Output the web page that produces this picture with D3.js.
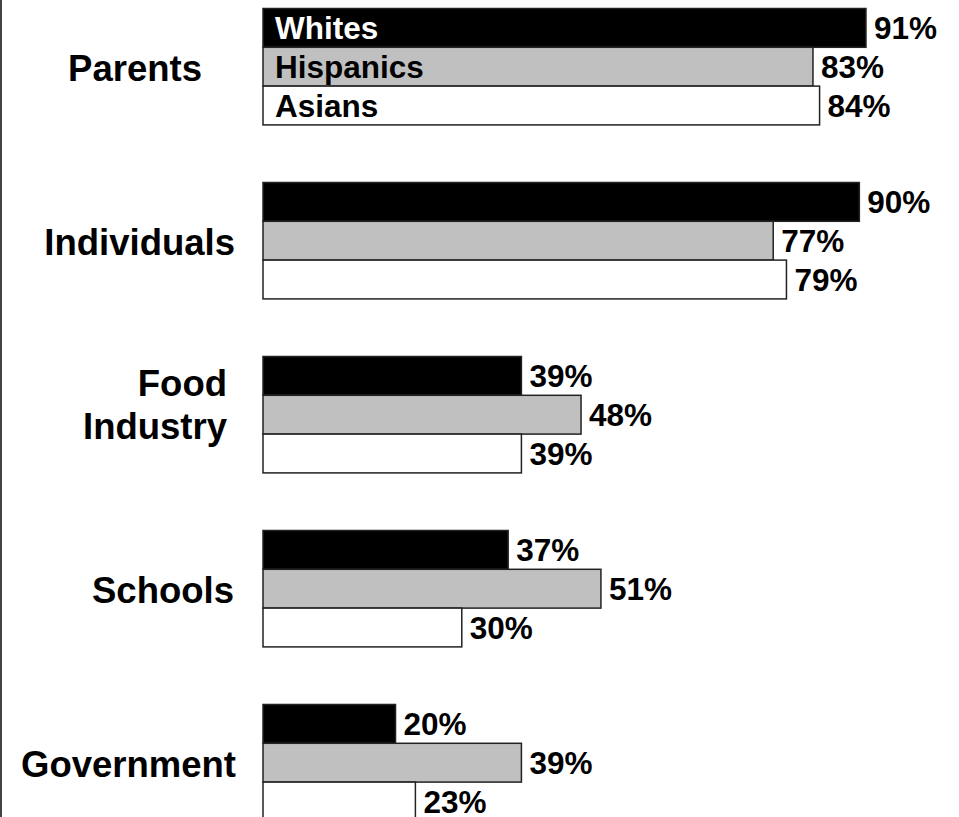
<!DOCTYPE html>
<html>
<head>
<meta charset="utf-8">
<script src="https://cdn.jsdelivr.net/npm/d3@7"></script>
<style>
  body { margin: 0; background: #fff; }
  svg { display: block; font-family: "Liberation Sans", Arial, sans-serif; font-weight: bold; }
</style>
</head>
<body>
<script>
// data
var categories = ["Parents", "Individuals", "Food Industry", "Schools", "Government"];
var series = ["Whites", "Hispanics", "Asians"];
var whites    = [91, 90, 39, 37, 20];
var hispanics = [83, 77, 48, 51, 39];
var asians    = [84, 79, 39, 30, 23];

var seriesValues = [whites, hispanics, asians];
var fills = ["#000000", "#c0c0c0", "#ffffff"];
var labelColors = ["#ffffff", "#000000", "#000000"];
// right edge of each category label
var labelRight = [202, 235, 227, 234, 236];

var width = 959, height = 817;

var svg = d3.select("body").append("svg")
    .attr("width", width)
    .attr("height", height);

// frame line on the left
svg.append("line")
    .attr("x1", 1).attr("x2", 1)
    .attr("y1", 0).attr("y2", height)
    .attr("stroke", "#444")
    .attr("stroke-width", 2);

// scales
var x = d3.scaleLinear().domain([0, 100]).range([263, 925.6]);
var y0 = d3.scaleBand().domain(categories).range([8.5, 820.9]).paddingInner(0.331).paddingOuter(0);
var y1 = d3.scaleBand().domain(series).range([0, y0.bandwidth()]);

var rows = [];
categories.forEach(function (c, i) {
    series.forEach(function (s, j) {
        rows.push({cat: c, ser: s, si: j, value: seriesValues[j][i], ci: i});
    });
});

var g = svg.append("g");

// bars
g.selectAll("rect.bar")
    .data(rows)
    .enter().append("rect")
    .attr("class", "bar")
    .attr("x", x(0))
    .attr("y", function (d) { return y0(d.cat) + y1(d.ser); })
    .attr("width", function (d) { return x(d.value) - x(0); })
    .attr("height", y1.bandwidth())
    .attr("fill", function (d) { return fills[d.si]; })
    .attr("stroke", "#222")
    .attr("stroke-width", 1.5);

// value labels
g.selectAll("text.val")
    .data(rows)
    .enter().append("text")
    .attr("class", "val")
    .attr("x", function (d) { return x(d.value) + 8; })
    .attr("y", function (d) { return y0(d.cat) + y1(d.ser) + y1.bandwidth() / 2; })
    .attr("dy", "0.35em")
    .style("font-size", "31.5px")
    .attr("fill", "#000")
    .text(function (d) { return d.value + "%"; });

// series names inside the first group
g.selectAll("text.ser")
    .data(series)
    .enter().append("text")
    .attr("class", "ser")
    .attr("x", x(0) + 12)
    .attr("y", function (d) { return y0(categories[0]) + y1(d) + y1.bandwidth() / 2; })
    .attr("dy", "0.35em")
    .style("font-size", "31.5px")
    .attr("fill", function (d, i) { return labelColors[i]; })
    .text(function (d) { return d; });

// category labels
var cl = g.selectAll("text.cat")
    .data(categories)
    .enter().append("text")
    .attr("class", "cat")
    .attr("text-anchor", "end")
    .style("font-size", "36.5px")
    .attr("fill", "#000");

cl.each(function (d, i) {
    var lines = d.split(" ");
    var mid = y0(d) + y0.bandwidth() / 2;
    var n = lines.length;
    var t = d3.select(this);
    lines.forEach(function (ln, k) {
        var off = n > 1 ? 3 + (k - (n - 1) / 2) * 43 : 14;
        t.append("tspan")
            .attr("x", labelRight[i])
            .attr("y", mid + off)
            .text(ln);
    });
});
</script>
</body>
</html>
